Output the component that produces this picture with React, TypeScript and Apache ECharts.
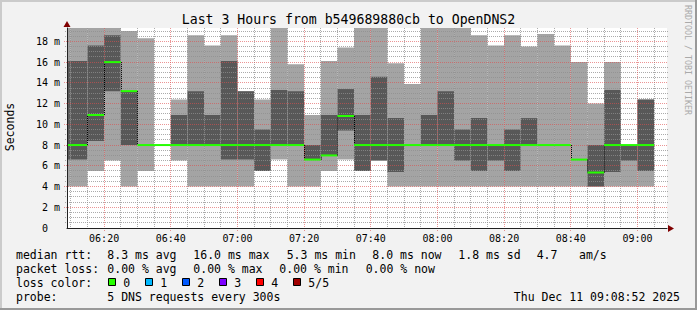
import React, { useEffect, useRef } from 'react';
import * as echarts from 'echarts';

const W = 697;
const H = 310;
const MONO = '"DejaVu Sans Mono", "Liberation Mono", monospace';

// ---- data ----
const titleText = 'Last 3 Hours from b549689880cb to OpenDNS2';
const startTime = '06:08:52';
const endTime = '09:08:52';
const stepMinutes = 5;
const xTickLabels = ['06:20', '06:40', '07:00', '07:20', '07:40', '08:00', '08:20', '08:40', '09:00'];
const yTickValues = [0, 2, 4, 6, 8, 10, 12, 14, 16, 18];
const yMaxMs = 19.29;

const slotEnds = [
  '06:10', '06:15', '06:20', '06:25', '06:30', '06:35', '06:40', '06:45', '06:50', '06:55', '07:00', '07:05',
  '07:10', '07:15', '07:20', '07:25', '07:30', '07:35', '07:40', '07:45', '07:50', '07:55', '08:00', '08:05',
  '08:10', '08:15', '08:20', '08:25', '08:30', '08:35', '08:40', '08:45', '08:50', '08:55', '09:00', '09:05',
];
// five sorted pings per slot (ms)
const pingMin = [
  4.0, 4.0, 5.5, 6.5, 4.0, 5.5, 8.0, 6.5, 4.0, 4.0, 4.0, 4.0,
  5.5, 6.6, 4.0, 4.0, 5.5, 6.6, 5.5, 6.5, 4.0, 4.0, 4.0, 4.0,
  4.0, 4.0, 4.0, 4.0, 4.0, 4.0, 4.0, 4.0, 4.0, 4.0, 4.0, 4.0,
];
const ping2 = [
  6.6, 6.6, 8.4, 13.2, 8.0, 8.0, 8.0, 8.0, 8.0, 8.0, 6.6, 6.6,
  5.5, 8.0, 8.0, 6.6, 7.0, 9.4, 5.5, 6.5, 5.4, 8.0, 8.0, 8.0,
  6.5, 5.5, 6.5, 5.5, 8.0, 8.0, 8.0, 6.6, 4.0, 5.4, 6.5, 5.5,
];
const medianRtt = [
  8.0, 8.0, 10.9, 16.0, 13.2, 8.0, 8.0, 8.0, 8.0, 8.0, 8.0, 8.0,
  8.0, 8.0, 8.0, 6.6, 7.0, 10.8, 8.0, 8.0, 8.0, 8.0, 8.0, 8.0,
  8.0, 8.0, 8.0, 8.0, 8.0, 8.0, 8.0, 6.6, 5.35, 8.0, 8.0, 8.0,
];
const ping4 = [
  16.1, 16.1, 17.6, 18.6, 13.2, 8.0, 8.0, 10.9, 13.2, 10.9, 16.1, 13.2,
  9.5, 13.3, 13.2, 8.0, 10.9, 13.4, 10.9, 14.6, 10.6, 8.0, 10.9, 13.2,
  9.5, 10.6, 8.0, 9.5, 10.6, 8.0, 8.0, 6.6, 8.0, 13.3, 8.0, 12.4,
];
const pingMax = [
  19.3, 19.3, 19.3, 19.3, 19.0, 18.3, 8.0, 12.4, 18.6, 17.6, 18.6, 13.2,
  12.4, 19.3, 15.8, 10.9, 16.1, 17.4, 19.3, 19.3, 15.9, 13.9, 19.3, 19.3,
  19.3, 18.6, 17.6, 18.6, 17.5, 18.7, 17.6, 16.0, 12.0, 16.0, 8.0, 12.4,
];

const medianStats = ['8.3 ms avg', '16.0 ms max', '5.3 ms min', '8.0 ms now', '1.8 ms sd', '4.7', 'am/s'];
const lossStats = ['0.00 % avg', '0.00 % max', '0.00 % min', '0.00 % now'];
const lossLabels = ['0', '1', '2', '3', '4', '5/5'];
const lossColors = ['#26ff00', '#00b8ff', '#0059ff', '#7e00ff', '#ff0000', '#a10000'];
const probeText = '5 DNS requests every 300s';
const dateText = 'Thu Dec 11 09:08:52 2025';

// ---- helpers ----
const toMin = (s: string) => {
  const [h, m, sec] = s.split(':').map(Number);
  return (h - 6) * 60 + m + (sec || 0) / 60;
};
const pad = (n: number) => (n < 10 ? '0' : '') + n;
const fmtTime = (v: number) => {
  const t = Math.round(v) + 360;
  return pad(Math.floor(t / 60)) + ':' + pad(t % 60);
};

const xMin = toMin(startTime);
const xMax = toMin(endTime);
const xMajor = xTickLabels.map(toMin);
const xMinor: number[] = [];
for (let m = Math.ceil(xMin / stepMinutes) * stepMinutes; m < xMax; m += stepMinutes) {
  if (!xMajor.includes(m)) xMinor.push(m);
}
const yMajor = yTickValues.filter((v) => v > 0);
const yMinor: number[] = [];
for (let v = 0.5; v < yMaxMs; v += 0.5) {
  if (v % 2 !== 0) yMinor.push(v);
}

const GRID = 'rgba(143,143,143,0.75)';
const MGRID = 'rgba(222,79,79,0.6)';
const AXIS = '#212121';
const ARROW = '#800000';
const LIGHT = '#a4a4a4';
const DARK = '#585858';

const slotData = slotEnds.map((t, i) => {
  const e = toMin(t);
  return [e - stepMinutes, e, pingMin[i], ping2[i], medianRtt[i], ping4[i], pingMax[i], i > 0 ? medianRtt[i - 1] : medianRtt[i]];
});

// grid lines: [x, y, orientation (0 vertical, 1 horizontal), major]
const gridData = [
  ...xMinor.map((v) => [v, 0, 0, 0]),
  ...yMinor.map((v) => [xMin, v, 1, 0]),
  ...xMajor.map((v) => [v, 0, 0, 1]),
  ...yMajor.map((v) => [xMin, v, 1, 1]),
];

function buildOption(): any {
  const legendText = (x: number, y: number, text: string, align = 'left') => ({
    type: 'text',
    x,
    y,
    silent: true,
    style: {
      text,
      fill: '#000',
      font: `11.5px ${MONO}`,
      textAlign: align,
      align,
      textVerticalAlign: 'middle',
      verticalAlign: 'middle',
    },
  });
  const r1 = 254.5, r2 = 268.5, r3 = 282.5, r4 = 296.5;
  const medX = [107.3, 193.3, 286.7, 372.3, 458.3, 536.7, 579];
  const lossX = [107.3, 193.3, 279.3, 365.7];
  const boxX = [108.5, 145.5, 182.5, 219.5, 256.5, 293.5];
  const graphics: any[] = [
    { type: 'rect', shape: { x: 0, y: 0, width: W, height: 2 }, style: { fill: '#cbcbcb' }, silent: true },
    { type: 'rect', shape: { x: 0, y: 0, width: 2, height: H }, style: { fill: '#cbcbcb' }, silent: true },
    { type: 'rect', shape: { x: W - 2, y: 0, width: 2, height: H }, style: { fill: '#999999' }, silent: true },
    { type: 'rect', shape: { x: 0, y: H - 2, width: W, height: 2 }, style: { fill: '#999999' }, silent: true },
    {
      type: 'polygon', silent: true, z: 10,
      shape: { points: [[668, 225], [674, 228.5], [668, 232]] },
      style: { fill: ARROW },
    },
    {
      type: 'polygon', silent: true, z: 10,
      shape: { points: [[63.5, 27], [67, 21], [70.5, 27]] },
      style: { fill: ARROW },
    },
    {
      type: 'text', x: 10, y: 127, rotation: Math.PI / 2, silent: true,
      style: { text: 'Seconds', fill: '#000', font: `11.5px ${MONO}`, textAlign: 'center', align: 'center', textVerticalAlign: 'middle', verticalAlign: 'middle' },
    },
    {
      type: 'text', x: 687.5, y: 60, rotation: -Math.PI / 2, silent: true,
      style: { text: 'RRDTOOL / TOBI OETIKER', fill: '#aaaaaa', font: `8.3px ${MONO}`, textAlign: 'center', align: 'center', textVerticalAlign: 'middle', verticalAlign: 'middle' },
    },
    legendText(16, r1, 'median rtt:'),
    ...medianStats.map((s, i) => legendText(medX[i], r1, s)),
    legendText(16, r2, 'packet loss:'),
    ...lossStats.map((s, i) => legendText(lossX[i], r2, s)),
    legendText(16, r3, 'loss color:'),
    ...lossLabels.map((s, i) => legendText(boxX[i] + 14.8, r3, s)),
    ...lossColors.map((c, i) => ({
      type: 'rect', silent: true,
      shape: { x: boxX[i], y: 278.5, width: 7, height: 7 },
      style: { fill: c, stroke: '#000', lineWidth: 1 },
    })),
    legendText(16, r4, 'probe:'),
    legendText(107.3, r4, probeText),
    legendText(680, r4, dateText, 'right'),
  ];

  return {
    animation: false,
    backgroundColor: '#f2f2f2',
    title: {
      text: titleText,
      left: 'center',
      top: 12,
      padding: 0,
      textStyle: { fontFamily: MONO, fontSize: 13.2, fontWeight: 'normal', color: '#000', lineHeight: 14 },
    },
    grid: { left: 67, top: 28, width: 600, height: 200, show: true, backgroundColor: '#ffffff', borderWidth: 0 },
    xAxis: {
      type: 'value',
      min: xMin,
      max: xMax,
      position: 'bottom',
      z: 4,
      axisLine: { show: true, lineStyle: { color: AXIS, width: 1 } },
      axisTick: { show: false },
      axisLabel: {
        customValues: xMajor,
        formatter: (v: number) => fmtTime(v),
        margin: 5,
        fontFamily: MONO,
        fontSize: 10,
        color: '#000',
      },
      splitLine: { show: false },
    },
    yAxis: {
      type: 'value',
      min: 0,
      max: yMaxMs,
      position: 'left',
      z: 4,
      axisLine: { show: true, lineStyle: { color: AXIS, width: 1 } },
      axisTick: { show: false },
      axisLabel: {
        customValues: yTickValues,
        formatter: (v: number) => (v === 0 ? '{z|0}' : `${v} m`),
        margin: 7,
        fontFamily: MONO,
        fontSize: 10,
        color: '#000',
        rich: { z: { fontFamily: MONO, fontSize: 10, color: '#000', padding: [0, 12, 0, 0] } },
      },
      splitLine: { show: false },
    },
    series: [
      {
        type: 'custom',
        name: 'smoke',
        z: 1,
        silent: true,
        data: slotData,
        renderItem: (params: any, api: any) => {
          const x0 = api.value(0);
          const x1 = api.value(1);
          const cs = params.coordSys;
          const band = (lo: number, hi: number, fill: string) => {
            const a = api.coord([x0, hi]);
            const b = api.coord([x1, lo]);
            const r = echarts.graphic.clipRectByRect(
              { x: a[0], y: a[1], width: b[0] - a[0], height: b[1] - a[1] },
              { x: cs.x, y: cs.y, width: cs.width, height: cs.height }
            );
            if (!r || r.height < 0.05 || r.width <= 0) return null;
            return { type: 'rect', shape: r, style: { fill } };
          };
          const children = [
            band(api.value(2), api.value(6), LIGHT),
            band(api.value(3), api.value(5), DARK),
          ].filter(Boolean);
          return { type: 'group', children };
        },
      },
      {
        type: 'custom',
        name: 'grid',
        z: 2,
        silent: true,
        data: gridData,
        renderItem: (params: any, api: any) => {
          const cs = params.coordSys;
          const vertical = api.value(2) === 0;
          const major = api.value(3) === 1;
          const p = api.coord([api.value(0), api.value(1)]);
          const ext = major ? 3 : 2;
          const style = { stroke: major ? MGRID : GRID, lineWidth: 1, lineDash: [1, 1] };
          if (vertical) {
            const x = Math.floor(p[0]) + 0.5;
            return { type: 'line', shape: { x1: x, y1: cs.y, x2: x, y2: cs.y + cs.height + ext }, style };
          }
          const y = Math.floor(p[1]) + 0.5;
          return { type: 'line', shape: { x1: cs.x - ext, y1: y, x2: cs.x + cs.width + 1, y2: y }, style };
        },
      },
      {
        type: 'custom',
        name: 'median',
        z: 3,
        silent: true,
        data: slotData,
        renderItem: (params: any, api: any) => {
          const x0 = api.value(0);
          const x1 = api.value(1);
          const m = api.value(4);
          const prev = api.value(7);
          const p0 = api.coord([Math.max(x0, xMin), m]);
          const p1 = api.coord([x1, m]);
          const children: any[] = [];
          if (prev !== m && x0 >= xMin) {
            const q = api.coord([x0, prev]);
            const xx = Math.round(p0[0]) + 0.5;
            children.push({
              type: 'line',
              shape: { x1: xx, y1: q[1], x2: xx, y2: p0[1] },
              style: { stroke: '#000', lineWidth: 1, lineDash: [1, 1] },
            });
          }
          children.push({
            type: 'line',
            shape: { x1: p0[0], y1: p0[1], x2: p1[0], y2: p1[1] },
            style: { stroke: lossColors[0], lineWidth: 2 },
          });
          return { type: 'group', children };
        },
      },
    ],
    graphic: { elements: graphics },
  };
}

export default function App() {
  const ref = useRef<HTMLDivElement>(null);
  useEffect(() => {
    if (!ref.current) return;
    const chart = echarts.init(ref.current, null, { renderer: 'svg', width: W, height: H });
    chart.setOption(buildOption());
    return () => chart.dispose();
  }, []);
  return <div ref={ref} style={{ position: 'fixed', left: 0, top: 0, width: W, height: H }} />;
}
